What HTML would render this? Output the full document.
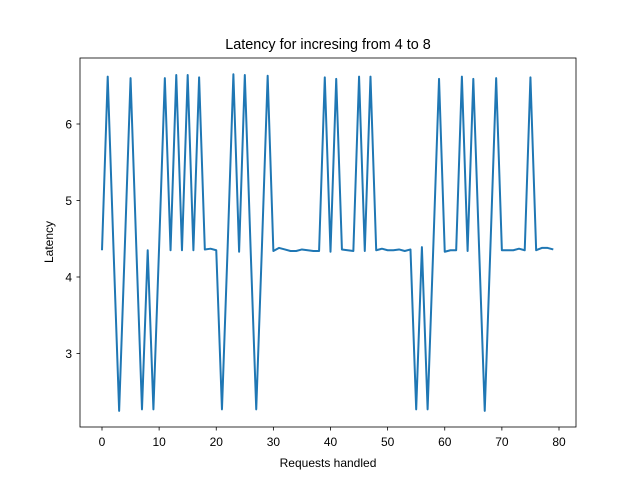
<!DOCTYPE html>
<html><head><meta charset="utf-8"><style>
body{margin:0;background:#fff;}
svg{font-family:"Liberation Sans","DejaVu Sans",sans-serif;}
</style></head><body>
<svg id="chart" width="640" height="480" viewBox="0 0 640 480">
<rect width="640" height="480" fill="#fff"/>
<text x="328" y="49" font-size="14.4" text-anchor="middle">Latency for incresing from 4 to 8</text>
<g id="plot"></g>
<rect x="80" y="58" width="496" height="369" fill="none" stroke="#000" stroke-width="0.8"/>
<text x="328" y="467" font-size="12" text-anchor="middle">Requests handled</text>
<text transform="translate(53,242) rotate(-90)" font-size="12" text-anchor="middle">Latency</text>
</svg>
<script>
const latency = [4.35,6.62,4.4,2.25,4.4,6.6,4.4,2.27,4.35,2.27,4.4,6.6,4.35,6.64,4.35,6.64,4.35,6.61,4.36,4.37,
4.35,2.27,4.4,6.65,4.33,6.64,4.4,2.27,4.4,6.63,4.34,4.38,4.36,4.34,4.34,4.36,4.35,4.34,4.34,6.61,
4.33,6.59,4.36,4.35,4.34,6.62,4.34,6.62,4.35,4.37,4.35,4.35,4.36,4.34,4.36,2.27,4.39,2.27,4.4,6.59,
4.33,4.35,4.35,6.62,4.34,6.59,4.4,2.25,4.4,6.6,4.35,4.35,4.35,4.37,4.35,6.61,4.35,4.38,4.38,4.36];
const xTicks = [0,10,20,30,40,50,60,70,80];
const yTicks = [3,4,5,6];
const NS = "http://www.w3.org/2000/svg";
const xs = v => 102 + v*(559-102)/80;
const ys = v => 277 - (v-4)*76.5;
const g = document.getElementById('plot');
xTicks.forEach(t=>{
  const l=document.createElementNS(NS,'line');
  l.setAttribute('x1',xs(t));l.setAttribute('x2',xs(t));l.setAttribute('y1',427);l.setAttribute('y2',430.5);
  l.setAttribute('stroke','#000');l.setAttribute('stroke-width','0.8');
  
  
  g.appendChild(l);
  const tx=document.createElementNS(NS,'text');
  tx.setAttribute('x',xs(t));tx.setAttribute('y',446);tx.setAttribute('font-size','12');tx.setAttribute('text-anchor','middle');
  tx.textContent=t;
  
  
  g.appendChild(tx);
});
yTicks.forEach(t=>{
  const l=document.createElementNS(NS,'line');
  l.setAttribute('x1',76.5);l.setAttribute('x2',80);l.setAttribute('y1',ys(t));l.setAttribute('y2',ys(t));
  l.setAttribute('stroke','#000');l.setAttribute('stroke-width','0.8');
  
  
  g.appendChild(l);
  const tx=document.createElementNS(NS,'text');
  tx.setAttribute('x',72);tx.setAttribute('y',ys(t)+4.5);tx.setAttribute('font-size','12');tx.setAttribute('text-anchor','end');
  tx.textContent=t;
  
  
  g.appendChild(tx);
});
const p=document.createElementNS(NS,'polyline');
p.setAttribute('points',latency.map((v,i)=>xs(i)+','+ys(v)).join(' '));
p.setAttribute('fill','none');p.setAttribute('stroke','#1f77b4');p.setAttribute('stroke-width','2');p.setAttribute('stroke-linejoin','round');


g.appendChild(p);
</script>
</body></html>
